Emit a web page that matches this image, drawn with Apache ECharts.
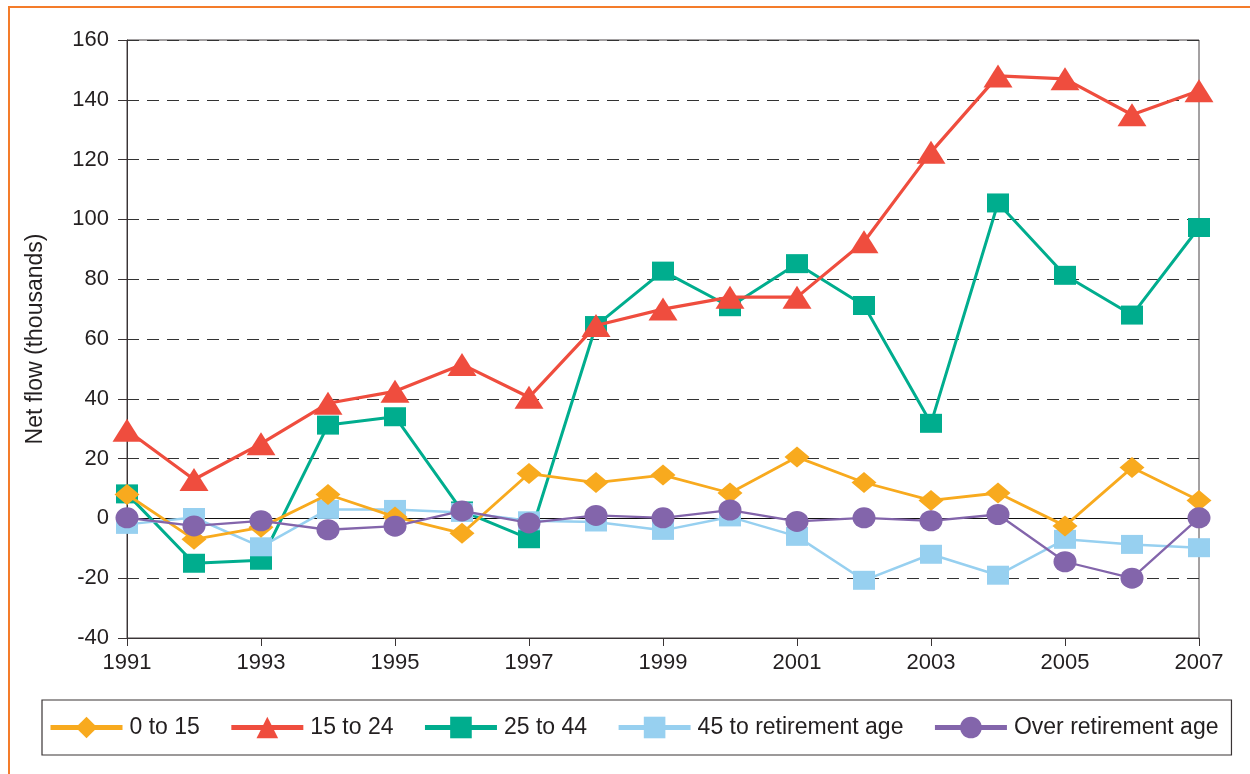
<!DOCTYPE html>
<html>
<head>
<meta charset="utf-8">
<script src="https://cdn.jsdelivr.net/npm/echarts@6/dist/echarts.min.js"></script>
<style>
html,body{margin:0;padding:0;background:#fff;}
#c{width:1250px;height:774px;}
</style>
</head>
<body>
<div id="c"></div>
<script>
var years = ['1991','1992','1993','1994','1995','1996','1997','1998','1999','2000','2001','2002','2003','2004','2005','2006','2007'];
var age0to15 =      [8, -7, -3, 8, 0.5, -5, 15, 12, 14.5, 8.5, 20.5, 12, 6, 8.5, -2.5, 17, 6];
var age15to24 =     [29.5, 13, 25, 38.5, 42.5, 51.5, 40.5, 64.5, 70, 74, 74, 92.5, 122.5, 148, 147, 135, 143];
var age25to44 =     [8.2, -15, -14, 31.2, 34, 2.5, -6.8, 64.5, 82.7, 70.8, 85.2, 71.2, 31.8, 105.5, 81.3, 68, 97.3];
var age45toRet =    [-2, 0.3, -9.5, 3, 3, 2, -0.8, -1.2, -4, 0.5, -6, -20.7, -12, -19, -7, -8.7, -9.8];
var overRet =       [0.2, -2.5, -0.8, -3.8, -2.6, 2.5, -1.5, 1, 0.2, 2.8, -1, 0.2, -0.8, 1.3, -14.5, -20, 0.2];
var yTicks = [-40, -20, 0, 20, 40, 60, 80, 100, 120, 140, 160];

var txt = '#231f20';
var ff = '"Liberation Sans", Arial, Helvetica, sans-serif';

var chart = echarts.init(document.getElementById('c'), null, {renderer:'canvas'});

function mk(name, data, color, symbol, size, width, z){
  return {
    name: name, type: 'line', data: data,
    symbol: symbol, symbolSize: size, showSymbol: true,
    z: z,
    lineStyle: {color: color, width: width},
    itemStyle: {color: color, borderColor: color, borderWidth: 0},
    emphasis: {disabled: true},
    animation: false
  };
}

var s25 = mk('25 to 44', age25to44, '#00ad8e', 'rect', [22, 19], 3, 3);
s25.markLine = {
  silent: true, symbol: 'none', animation: false,
  label: {show: false},
  lineStyle: {color: '#111', width: 1.2, type: 'solid'},
  data: [{yAxis: 0}],
  z: 1
};

chart.setOption({
  backgroundColor: '#fff',
  animation: false,
  textStyle: {fontFamily: ff},
  graphic: [
    {type: 'rect', shape: {x: 8, y: 6, width: 1260, height: 2}, style: {fill: '#f47c2a'}, silent: true},
    {type: 'rect', shape: {x: 8, y: 6, width: 2, height: 800}, style: {fill: '#f47c2a'}, silent: true}
  ],
  grid: {left: 127, top: 40, width: 1072, height: 598, show: true, borderColor: '#4a4446', borderWidth: 1, backgroundColor: 'transparent'},
  legend: {
    data: ['0 to 15', '15 to 24', '25 to 44', '45 to retirement age', 'Over retirement age'],
    left: 42, top: 700,
    itemWidth: 72, itemHeight: 27, itemGap: 29,
    padding: [16, 13, 16, 6],
    borderColor: '#3a3435', borderWidth: 1.2,
    lineStyle: {width: 5},
    textStyle: {fontSize: 23, color: txt, fontFamily: ff, padding: [0, 0, 0, 2]},
    selectedMode: false
  },
  xAxis: {
    type: 'category', data: years, boundaryGap: false,
    axisLine: {onZero: false, lineStyle: {color: '#3a3435', width: 1}},
    axisTick: {show: true, interval: 1, length: 8, inside: false, lineStyle: {color: '#3a3435'}},
    axisLabel: {interval: 1, fontSize: 22, color: txt, margin: 14, fontFamily: ff},
    splitLine: {show: false}
  },
  yAxis: {
    type: 'value', min: -40, max: 160, interval: 20,
    name: 'Net flow (thousands)', nameLocation: 'middle', nameGap: 80,
    nameTextStyle: {fontSize: 23, color: txt, fontFamily: ff},
    axisLine: {show: true, lineStyle: {color: '#3a3435', width: 1}},
    axisTick: {show: true, length: 9, lineStyle: {color: '#3a3435'}},
    axisLabel: {fontSize: 22, color: txt, margin: 18, fontFamily: ff,
      formatter: function(v){ return yTicks.indexOf(v) >= 0 ? String(v) : ''; }},
    splitLine: {show: true, lineStyle: {color: '#333', width: 1.2, type: [12, 8]}}
  },
  series: [
    s25,
    mk('45 to retirement age', age45toRet, '#97d0f0', 'rect', [22, 19], 2.5, 4),
    mk('0 to 15', age0to15, '#f8aa1e', 'diamond', [25, 21], 2.8, 5),
    mk('Over retirement age', overRet, '#8365ab', 'circle', [23, 21], 2.3, 6),
    mk('15 to 24', age15to24, '#ef4d3e', 'triangle', [29, 23], 3.2, 7)
  ]
});
</script>
</body>
</html>
